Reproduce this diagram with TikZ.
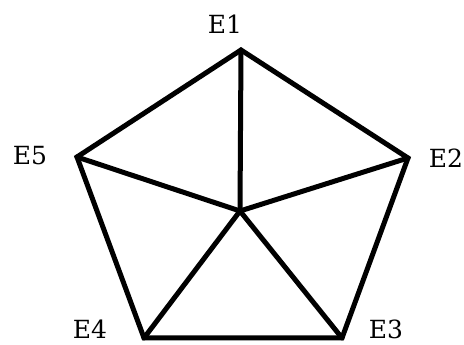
\documentclass[tikz,border=0pt]{standalone}
\usepackage{fontspec}
\setmainfont{DejaVu Serif}
\usetikzlibrary{positioning}

\begin{document}
\begin{tikzpicture}[
  x=1pt, y=1pt,
  every node/.style={font=\fontsize{25}{27}\selectfont},
  vertex/.style={inner sep=0pt, minimum size=0pt},
  edge/.style={draw=black, line width=5pt, line join=miter, line cap=round}
]
\useasboundingbox (0,0) rectangle (464,345);

% Vertices
\node[vertex] (e1) at (241,295) {};
\node[vertex] (e2) at (408,187) {};
\node[vertex] (e3) at (342,7) {};
\node[vertex] (e4) at (144,7) {};
\node[vertex] (e5) at (77,188) {};
\node[vertex] (c)  at (240,134) {};

% Labels
\node[inner sep=1pt] (l1) at (225,321) {E1};
\node[inner sep=1pt] (l2) at (446,187) {E2};
\node[inner sep=1pt] (l3) at (386,16) {E3};
\node[inner sep=1pt] (l4) at (90,16) {E4};
\node[inner sep=1pt] (l5) at (30,189) {E5};

% Outer pentagon
\draw[edge] (e1.center) -- (e2.center) -- (e3.center) -- (e4.center) -- (e5.center) -- cycle;

% Spokes
\foreach \v in {e1,e2,e3,e4,e5} {
  \draw[edge] (c.center) -- (\v.center);
}
\end{tikzpicture}
\end{document}
